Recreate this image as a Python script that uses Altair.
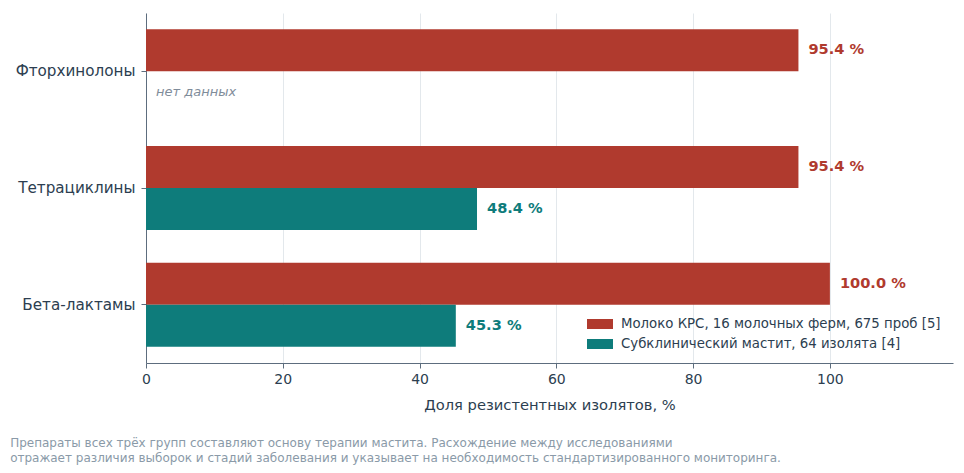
import altair as alt
import pandas as pd

categories = ["Фторхинолоны", "Тетрациклины", "Бета-лактамы"]
series = ["Молоко КРС, 16 молочных ферм, 675 проб [5]", "Субклинический мастит, 64 изолята [4]"]
milk = [95.4, 95.4, 100.0]
mastitis = [None, 48.4, 45.3]
colors = ["#B03A2E", "#0E7C7B"]
no_data_text = "нет данных"
footnote = [
    "Препараты всех трёх групп составляют основу терапии мастита. Расхождение между исследованиями",
    "отражает различия выборок и стадий заболевания и указывает на необходимость стандартизированного мониторинга.",
]

rows = []
for c, m, s in zip(categories, milk, mastitis):
    rows.append({"cat": c, "series": series[0], "value": m})
    rows.append({"cat": c, "series": series[1], "value": s})
df = pd.DataFrame(rows)
df["label"] = df["value"].map(lambda v: "" if pd.isna(v) else f"{v:.1f} %")
present = df.dropna(subset=["value"])
missing = df[df["value"].isna()].assign(value=0.0, label=no_data_text)

FONT = "DejaVu Sans"
y_enc = alt.Y("cat:N", sort=categories, title=None,
              scale=alt.Scale(paddingInner=0.28, paddingOuter=0.14))
yoff = alt.YOffset("series:N", sort=series, scale=alt.Scale(domain=series))
x_enc = alt.X("value:Q", title="Доля резистентных изолятов, %",
              scale=alt.Scale(domain=[0, 118], nice=False),
              axis=alt.Axis(values=[0, 20, 40, 60, 80, 100], labelFlush=False))
color_scale = alt.Scale(domain=series, range=colors)

bars = alt.Chart(present).mark_bar().encode(
    x=x_enc, y=y_enc, yOffset=yoff,
    color=alt.Color("series:N", scale=color_scale, sort=series,
                    legend=alt.Legend(title=None, orient="bottom-right", offset=12,
                                      symbolType="M-1.3,-0.5H1.3V0.5H-1.3Z", symbolSize=400,
                                      symbolStrokeWidth=0, labelFontSize=13.3, labelColor="#2C3E50",
                                      labelFont=FONT, rowPadding=3, symbolOpacity=1,
                                      labelLimit=0, labelOffset=11)),
)

labels = alt.Chart(present).mark_text(align="left", baseline="middle", dx=10,
                                      fontWeight="bold", fontSize=14.6, font=FONT).encode(
    x="value:Q", y=alt.Y("cat:N", sort=categories), yOffset=yoff, text="label:N",
    color=alt.Color("series:N", scale=color_scale, legend=None),
)

nodata = alt.Chart(missing).mark_text(align="left", baseline="middle", dx=10,
                                      fontStyle="italic", fontSize=13, font=FONT,
                                      color="#7F8C9A").encode(
    x="value:Q", y=alt.Y("cat:N", sort=categories), yOffset=yoff, text="label:N",
)

chart = alt.layer(bars, labels, nodata).properties(
    width=807, height=350,
    padding={"left": 146, "top": 13, "right": 11, "bottom": 110},
    autosize=alt.AutoSizeParams(type="none"),
    title=alt.TitleParams(text=footnote, orient="bottom", anchor="start", frame="bounds",
                          fontSize=12, fontWeight="normal", color="#8A9AA8", font=FONT,
                          offset=26, lineHeight=15, dx=-5),
).configure_view(stroke=None).configure_axis(
    labelFont=FONT, titleFont=FONT, labelColor="#2C3E50", titleColor="#2C3E50",
    domainColor="#5D6D7E", tickColor="#5D6D7E",
).configure_axisX(
    grid=True, gridColor="#E3E8EC", labelFontSize=14, titleFontSize=14.7,
    titleFontWeight="normal", titlePadding=11, labelPadding=4,
).configure_axisY(
    grid=False, labelFontSize=15.2, labelPadding=6, tickSize=5,
)

chart.save("out.html", embed_options={"renderer": "svg", "actions": False})
